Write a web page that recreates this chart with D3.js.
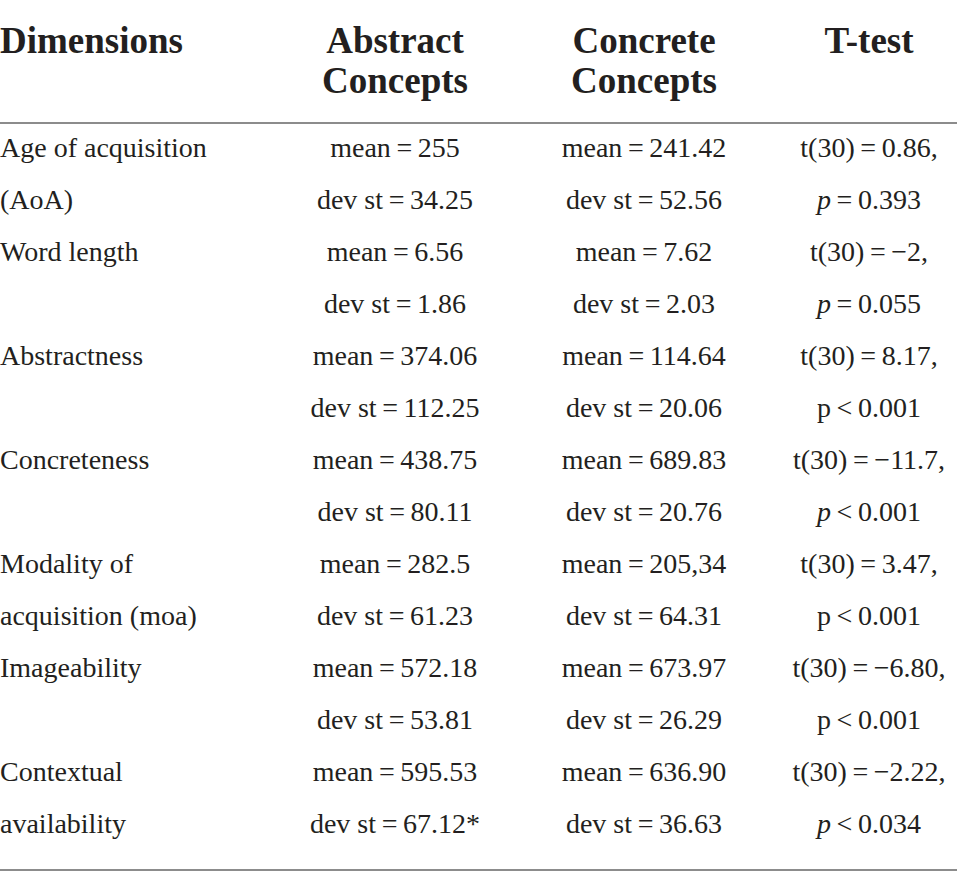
<!DOCTYPE html>
<html>
<head>
<meta charset="utf-8">
<script src="https://cdn.jsdelivr.net/npm/d3@7"></script>
<style>
  html, body { margin: 0; padding: 0; background: #fff; }
  svg { display: block; }
</style>
</head>
<body>
<script>
var width = 957;
var height = 890;

// Table contents
var headers = [["Dimensions"], ["Abstract", "Concepts"], ["Concrete", "Concepts"], ["T-test"]];
var dimensions = [
  ["Age of acquisition", "(AoA)"],
  ["Word length", ""],
  ["Abstractness", ""],
  ["Concreteness", ""],
  ["Modality of", "acquisition (moa)"],
  ["Imageability", ""],
  ["Contextual", "availability"]
];
var abstractMean = ["255", "6.56", "374.06", "438.75", "282.5", "572.18", "595.53"];
var abstractSd = ["34.25", "1.86", "112.25", "80.11", "61.23", "53.81", "67.12*"];
var concreteMean = ["241.42", "7.62", "114.64", "689.83", "205,34", "673.97", "636.90"];
var concreteSd = ["52.56", "2.03", "20.06", "20.76", "64.31", "26.29", "36.63"];
var tStat = ["0.86", "\u22122", "8.17", "\u221211.7", "3.47", "\u22126.80", "\u22122.22"];
var pRel = ["=", "=", "<", "<", "<", "<", "<"];
var pVal = ["0.393", "0.055", "0.001", "0.001", "0.001", "0.001", "0.034"];
var pItalic = [true, true, false, true, false, false, true];

var thin = "\u2009";
var ink = "#231f20";
var font = "'Liberation Serif', 'Times New Roman', serif";

var svg = d3.select("body").append("svg")
    .attr("width", width)
    .attr("height", height);

// column anchor positions (first is left aligned, rest centred)
var colX = d3.scaleOrdinal()
    .domain([0, 1, 2, 3])
    .range([0, 395, 644, 869]);

// one text line per half-row
var nLines = dimensions.length * 2;
var lineY = d3.scaleLinear()
    .domain([0, nLines - 1])
    .range([157, 157 + 52 * (nLines - 1)]);

// header
var head = svg.append("g").attr("class", "header")
    .style("font-family", font)
    .style("font-weight", "bold")
    .style("font-size", "37px")
    .attr("fill", ink);

headers.forEach(function(h, i) {
  h.forEach(function(t, j) {
    head.append("text")
        .attr("x", colX(i))
        .attr("y", 53 + j * 40)
        .attr("text-anchor", i === 0 ? "start" : "middle")
        .text(t);
  });
});

// rules
svg.append("line")
    .attr("x1", 0).attr("x2", width)
    .attr("y1", 123).attr("y2", 123)
    .attr("stroke", "#8c8c8c")
    .attr("stroke-width", 2);

svg.append("line")
    .attr("x1", 0).attr("x2", width)
    .attr("y1", 870).attr("y2", 870)
    .attr("stroke", "#8c8c8c")
    .attr("stroke-width", 2);

var body = svg.append("g").attr("class", "rows")
    .style("font-family", font)
    .style("font-size", "28px")
    .attr("fill", ink);

dimensions.forEach(function(d, i) {
  var y1 = lineY(i * 2), y2 = lineY(i * 2 + 1);

  body.append("text").attr("x", colX(0)).attr("y", y1).text(d[0]);
  if (d[1]) body.append("text").attr("x", colX(0)).attr("y", y2).text(d[1]);

  body.append("text").attr("x", colX(1)).attr("y", y1).attr("text-anchor", "middle")
      .text("mean" + thin + "=" + thin + abstractMean[i]);
  body.append("text").attr("x", colX(1)).attr("y", y2).attr("text-anchor", "middle")
      .text("dev st" + thin + "=" + thin + abstractSd[i]);

  body.append("text").attr("x", colX(2)).attr("y", y1).attr("text-anchor", "middle")
      .text("mean" + thin + "=" + thin + concreteMean[i]);
  body.append("text").attr("x", colX(2)).attr("y", y2).attr("text-anchor", "middle")
      .text("dev st" + thin + "=" + thin + concreteSd[i]);

  body.append("text").attr("x", colX(3)).attr("y", y1).attr("text-anchor", "middle")
      .text("t(30)" + thin + "=" + thin + tStat[i] + ",");

  var pt = body.append("text").attr("x", colX(3)).attr("y", y2).attr("text-anchor", "middle");
  pt.append("tspan")
      .style("font-style", pItalic[i] ? "italic" : "normal")
      .text("p");
  pt.append("tspan").text(thin + pRel[i] + thin + pVal[i]);
});
</script>
</body>
</html>
